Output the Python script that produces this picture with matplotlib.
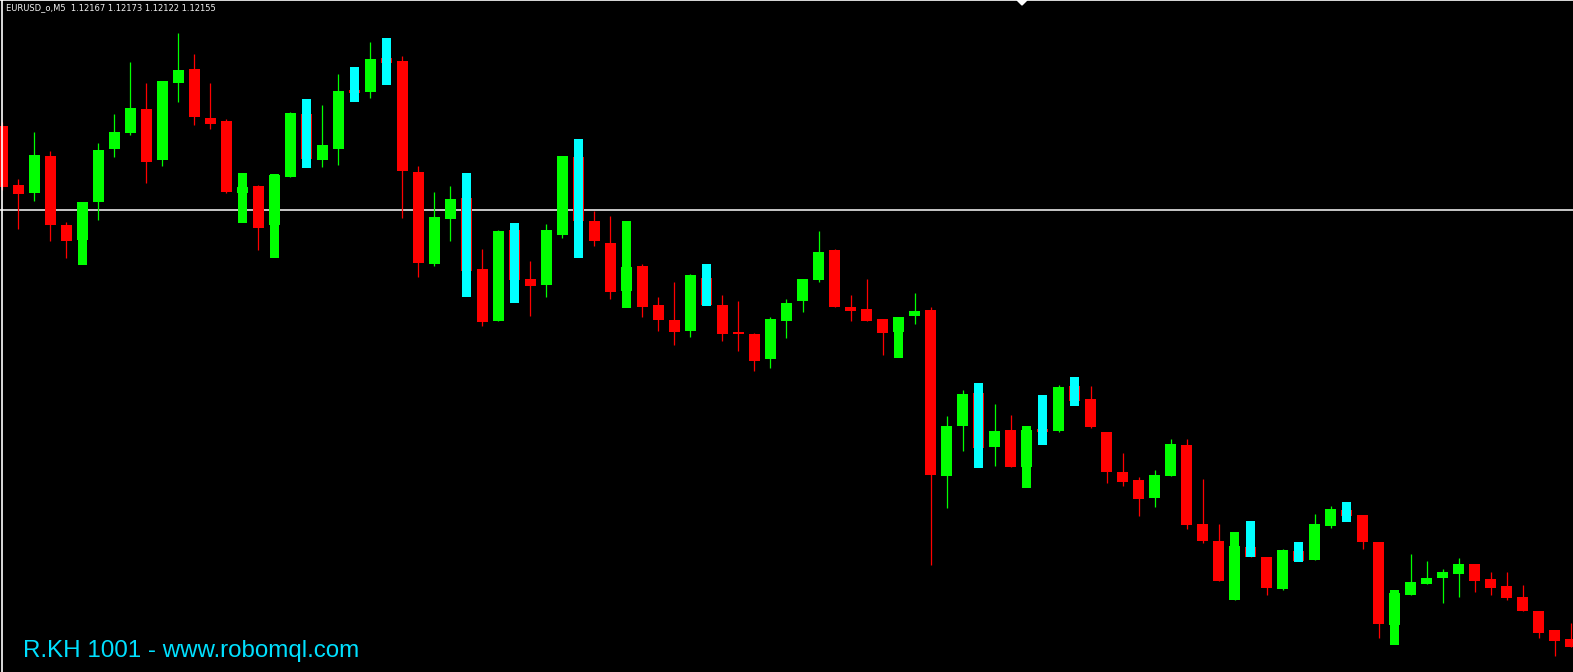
import numpy as np
import matplotlib
matplotlib.use("Agg")
import matplotlib.pyplot as plt
from matplotlib.lines import Line2D

# Data Section - EURUSD M5 candles

opens = [1.12874, 1.12815, 1.12807, 1.12844, 1.12775, 1.12760, 1.12798, 1.12851, 1.12867, 1.12891,
         1.12840, 1.12917, 1.12931, 1.12882, 1.12879, 1.12807, 1.12814, 1.12775, 1.12823, 1.12886,
         1.12840, 1.12851, 1.12910, 1.12908, 1.12942, 1.12939, 1.12828, 1.12736, 1.12781, 1.12802,
         1.12731, 1.12679, 1.12770, 1.12721, 1.12715, 1.12765, 1.12843, 1.12779, 1.12757, 1.12709,
         1.12734, 1.12695, 1.12680, 1.12669, 1.12722, 1.12695, 1.12668, 1.12666, 1.12641, 1.12679,
         1.12699, 1.12720, 1.12750, 1.12693, 1.12691, 1.12681, 1.12668, 1.12684, 1.12690, 1.12524,
         1.12574, 1.12607, 1.12553, 1.12570, 1.12533, 1.12571, 1.12569, 1.12614, 1.12601, 1.12568,
         1.12528, 1.12520, 1.12502, 1.12524, 1.12555, 1.12476, 1.12459, 1.12400, 1.12453, 1.12443,
         1.12411, 1.12449, 1.12440, 1.12474, 1.12490, 1.12485, 1.12458, 1.12375, 1.12405, 1.12416,
         1.12422, 1.12426, 1.12436, 1.12421, 1.12414, 1.12403, 1.12389, 1.12370, 1.12361]

highs = [1.12878, 1.12821, 1.12868, 1.12849, 1.12778, 1.12798, 1.12857, 1.12886, 1.12938, 1.12917,
         1.12919, 1.12967, 1.12946, 1.12917, 1.12881, 1.12813, 1.12815, 1.12825, 1.12888, 1.12886,
         1.12895, 1.12926, 1.12910, 1.12958, 1.12942, 1.12944, 1.12834, 1.12808, 1.12814, 1.12802,
         1.12751, 1.12770, 1.12770, 1.12739, 1.12776, 1.12844, 1.12843, 1.12789, 1.12784, 1.12733,
         1.12736, 1.12703, 1.12718, 1.12726, 1.12722, 1.12705, 1.12699, 1.12667, 1.12683, 1.12701,
         1.12721, 1.12769, 1.12751, 1.12705, 1.12721, 1.12681, 1.12683, 1.12707, 1.12693, 1.12584,
         1.12610, 1.12607, 1.12596, 1.12585, 1.12570, 1.12571, 1.12615, 1.12614, 1.12614, 1.12568,
         1.12547, 1.12523, 1.12530, 1.12561, 1.12561, 1.12521, 1.12476, 1.12454, 1.12453, 1.12443,
         1.12451, 1.12449, 1.12486, 1.12494, 1.12490, 1.12485, 1.12458, 1.12407, 1.12446, 1.12439,
         1.12431, 1.12442, 1.12436, 1.12428, 1.12428, 1.12415, 1.12389, 1.12370, 1.12377]

lows = [1.12810, 1.12771, 1.12799, 1.12759, 1.12742, 1.12760, 1.12780, 1.12843, 1.12865, 1.12817,
        1.12834, 1.12898, 1.12875, 1.12871, 1.12807, 1.12807, 1.12750, 1.12775, 1.12823, 1.12841,
        1.12833, 1.12835, 1.12907, 1.12902, 1.12937, 1.12782, 1.12723, 1.12734, 1.12759, 1.12729,
        1.12674, 1.12679, 1.12720, 1.12684, 1.12703, 1.12762, 1.12779, 1.12754, 1.12701, 1.12709,
        1.12683, 1.12669, 1.12655, 1.12663, 1.12695, 1.12659, 1.12649, 1.12629, 1.12632, 1.12662,
        1.12688, 1.12718, 1.12693, 1.12679, 1.12679, 1.12645, 1.12668, 1.12676, 1.12435, 1.12492,
        1.12549, 1.12552, 1.12534, 1.12533, 1.12533, 1.12568, 1.12568, 1.12599, 1.12572, 1.12517,
        1.12514, 1.12484, 1.12493, 1.12524, 1.12471, 1.12457, 1.12419, 1.12400, 1.12443, 1.12405,
        1.12410, 1.12439, 1.12440, 1.12472, 1.12484, 1.12451, 1.12362, 1.12375, 1.12405, 1.12416,
        1.12397, 1.12403, 1.12408, 1.12405, 1.12400, 1.12389, 1.12362, 1.12344, 1.12353]

closes = [1.12813, 1.12806, 1.12845, 1.12775, 1.12759, 1.12798, 1.12850, 1.12868, 1.12892, 1.12838,
          1.12919, 1.12930, 1.12883, 1.12876, 1.12808, 1.12813, 1.12772, 1.12825, 1.12887, 1.12841,
          1.12855, 1.12909, 1.12907, 1.12941, 1.12937, 1.12829, 1.12737, 1.12783, 1.12801, 1.12729,
          1.12678, 1.12769, 1.12720, 1.12714, 1.12770, 1.12844, 1.12779, 1.12759, 1.12708, 1.12733,
          1.12693, 1.12680, 1.12668, 1.12725, 1.12695, 1.12666, 1.12666, 1.12639, 1.12681, 1.12697,
          1.12721, 1.12748, 1.12693, 1.12689, 1.12679, 1.12667, 1.12683, 1.12689, 1.12525, 1.12574,
          1.12606, 1.12552, 1.12569, 1.12533, 1.12570, 1.12568, 1.12613, 1.12599, 1.12573, 1.12528,
          1.12518, 1.12501, 1.12525, 1.12556, 1.12475, 1.12459, 1.12419, 1.12454, 1.12443, 1.12412,
          1.12450, 1.12439, 1.12476, 1.12491, 1.12484, 1.12458, 1.12376, 1.12407, 1.12418, 1.12422,
          1.12428, 1.12436, 1.12419, 1.12412, 1.12402, 1.12389, 1.12367, 1.12359, 1.12353]

# indicator bars painted over some candles (candle index, top, bottom, kind)
ov_index = [5, 15, 17, 19, 22, 24, 29, 32, 36, 39, 44, 56, 61, 64, 65, 67, 77, 78, 81, 84, 87]
ov_top = [1.12797, 1.12827, 1.12826, 1.12901, 1.12933, 1.12962, 1.12827, 1.12777, 1.12861, 1.12779, 1.12736,
          1.12683, 1.12617, 1.12574, 1.12605, 1.12623, 1.12468, 1.12479, 1.12458, 1.12498, 1.12410]
ov_bottom = [1.12735, 1.12777, 1.12742, 1.12832, 1.12898, 1.12915, 1.12703, 1.12697, 1.12742, 1.12692, 1.12694,
             1.12642, 1.12532, 1.12512, 1.12555, 1.12594, 1.12400, 1.12443, 1.12438, 1.12478, 1.12355]
ov_kind = ["up", "up", "up", "fl", "fl", "fl", "fl", "fl", "fl", "up", "fl",
           "up", "fl", "up", "fl", "fl", "up", "fl", "fl", "fl", "up"]

level_line = 1.12790
header = "EURUSD_o,M5  1.12167 1.12173 1.12122 1.12155"
watermark = "R.KH 1001 - www.robomql.com"

# Plot

bull = "#00ff00"
bear = "#ff0000"
aqua = "#00ffff"

fig = plt.figure(figsize=(15.73, 6.72), dpi=100, facecolor="black")
ax = fig.add_axes([0, 0, 1, 1])
ax.set_facecolor("black")

o = np.array(opens)
h = np.array(highs)
l = np.array(lows)
c = np.array(closes)
x = np.arange(len(o))
cols = np.where(c > o, bull, bear)

ax.axhline(level_line, color="#e8e8e8", lw=1.2, zorder=1)

ax.vlines(x, l, h, colors=cols, lw=0.9, zorder=2)
body_low = np.minimum(o, c)
body_h = np.maximum(np.abs(c - o), 0.000015)
ax.bar(x, body_h, bottom=body_low, width=0.69, color=cols, linewidth=0, zorder=3)

ov_cols = [bull if k == "up" else aqua for k in ov_kind]
ax.bar(ov_index, np.array(ov_top) - np.array(ov_bottom), bottom=ov_bottom,
       width=0.56, color=ov_cols, linewidth=0, zorder=4)

ax.set_xlim(-0.156, 98.156)
ax.set_ylim(1.12328, 1.13)
ax.axis("off")

# chart frame and shift marker
fig.add_artist(Line2D([0.001, 0.001], [0, 1], color="white", lw=1.2))
fig.add_artist(Line2D([0, 1], [0.9995, 0.9995], color="white", lw=1.2))
fig.add_artist(plt.Polygon([[1017 / 1573, 1], [1027 / 1573, 1], [1022 / 1573, 1 - 5 / 672]],
                           closed=True, color="white", transform=fig.transFigure))

fig.text(6 / 1573, 1 - 8 / 672, header, color="#f0f0f0", fontsize=6.05,
         family="DejaVu Sans", va="center", ha="left")
fig.text(23 / 1573, 15 / 672, watermark, color="#00e0ff", fontsize=17.4,
         family="Liberation Sans", va="baseline", ha="left")

fig.savefig("out.png", dpi=100, facecolor="black")
